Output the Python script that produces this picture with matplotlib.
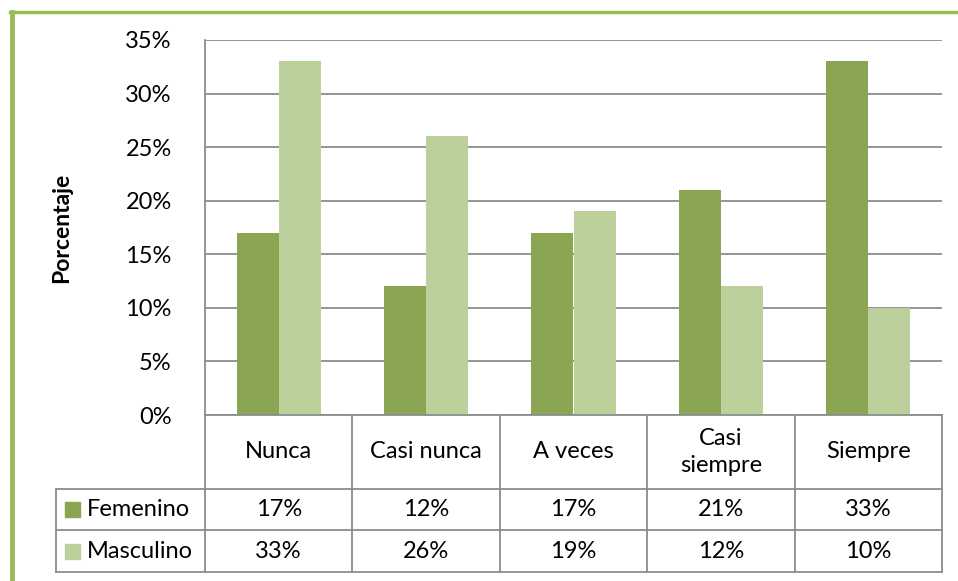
import numpy as np
import matplotlib.pyplot as plt
from matplotlib.lines import Line2D
from matplotlib.patches import Rectangle

categorias = ['Nunca', 'Casi nunca', 'A veces', 'Casi\nsiempre', 'Siempre']
series = ['Femenino', 'Masculino']
femenino = [17, 12, 17, 21, 33]
masculino = [33, 26, 19, 12, 10]
colores = ['#8aa652', '#bbd09a']
yticks = [0, 5, 10, 15, 20, 25, 30, 35]

plt.rcParams['font.family'] = ['Lato', 'DejaVu Sans']
gris = '#8c8c8c'
fs = 17

W, H = 958, 581
fig = plt.figure(figsize=(W / 100, H / 100), dpi=100)

# plot area in pixels
x0, x1, y0, y1 = 205, 942, 40, 415
ax = fig.add_axes([x0 / W, 1 - y1 / H, (x1 - x0) / W, (y1 - y0) / H])

x = np.arange(len(categorias))
bw = 1 / 3.5
ax.bar(x - bw / 2, femenino, bw, color=colores[0], zorder=2)
ax.bar(x + bw / 2, masculino, bw, color=colores[1], zorder=2)
ax.set_xlim(-0.5, len(categorias) - 0.5)
ax.set_ylim(0, 35)
ax.set_yticks(yticks)
ax.set_yticklabels(['%d%%' % v for v in yticks], fontsize=fs)
ax.set_xticks([])
ax.yaxis.grid(True, color=gris, linewidth=1.3, zorder=0)
ax.tick_params(axis='y', length=0, pad=24)
for s in ['top', 'right']:
    ax.spines[s].set_visible(False)
ax.spines['left'].set_color(gris)
ax.spines['left'].set_linewidth(1.3)
ax.spines['bottom'].set_color(gris)
ax.spines['bottom'].set_linewidth(1.3)
fig.text(62 / W, 1 - 228 / H, 'Porcentaje', rotation=90, fontsize=fs - 0.5,
         fontweight='bold', ha='center', va='center')

# data table below the plot
tx0, ty1 = 56, 572
pxu = (x1 - x0) / len(categorias)
tab = fig.add_axes([tx0 / W, 1 - ty1 / H, (x1 - tx0) / W, (ty1 - y1) / H])
tab.set_xlim(-0.5 - (x0 - tx0) / pxu, len(categorias) - 0.5)
tab.set_ylim(ty1 - y1, 0)
tab.axis('off')
rows = [0, 74, 115, 157]
xl = tab.get_xlim()[0]
lw = 1.3
for r in rows[1:]:
    tab.add_line(Line2D([xl, len(categorias) - 0.5], [r, r], color=gris, lw=lw, clip_on=False))
tab.add_line(Line2D([xl, xl], [rows[1], rows[3]], color=gris, lw=lw, clip_on=False))
for i in range(len(categorias) + 1):
    tab.add_line(Line2D([i - 0.5, i - 0.5], [rows[0], rows[3]], color=gris, lw=lw, clip_on=False))

for i, c in enumerate(categorias):
    tab.text(i, (rows[0] + rows[1]) / 2, c, ha='center', va='center', fontsize=fs,
             linespacing=1.4)
valores = [femenino, masculino]
for j, (nombre, vals) in enumerate(zip(series, valores)):
    yc = (rows[j + 1] + rows[j + 2]) / 2
    for i, v in enumerate(vals):
        tab.text(i, yc, '%d%%' % v, ha='center', va='center', fontsize=fs)
    sq = 15 / pxu
    tab.add_patch(Rectangle((xl + 9 / pxu, yc - 7.5), sq, 15, color=colores[j], clip_on=False))
    tab.text(xl + 31 / pxu, yc, nombre, ha='left', va='center', fontsize=fs)

# green frame of the figure
fig.add_artist(Line2D([11.5 / W, 11.5 / W], [0, 1 - 11.5 / H], color='#9bbb59', lw=3.5))
fig.add_artist(Line2D([10 / W, 1], [1 - 11.5 / H, 1 - 11.5 / H], color='#9bbb59', lw=2.5))

fig.savefig('out.png', dpi=100)
